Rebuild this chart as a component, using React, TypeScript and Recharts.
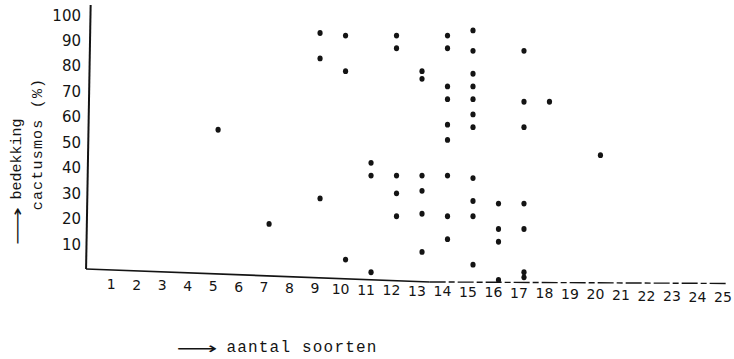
import React from "react";
import {
  ScatterChart,
  Scatter,
  XAxis,
  YAxis,
  ReferenceLine,
} from "recharts";

// aantal soorten (x) and bedekking cactusmos in % (y), one entry per dot
const soorten = [
  5,
  7,
  9, 9, 9,
  10, 10, 10,
  11, 11, 11,
  12, 12, 12, 12, 12,
  13, 13, 13, 13, 13, 13,
  14, 14, 14, 14, 14, 14, 14, 14, 14,
  15, 15, 15, 15, 15, 15, 15, 15, 15, 15, 15,
  16, 16, 16, 16,
  17, 17, 17, 17, 17, 17, 17,
  18,
  20,
];
const bedekking = [
  55,
  18,
  93, 83, 28,
  92, 78, 4,
  42, 37, -1,
  92, 87, 37, 30, 21,
  78, 75, 37, 31, 22, 7,
  92, 87, 72, 67, 57, 51, 37, 21, 12,
  94, 86, 77, 72, 67, 61, 56, 36, 27, 21, 2,
  26, 16, 11, -4,
  86, 66, 56, 26, 16, -1, -3,
  66,
  45,
];

const xTicks = [1, 2, 3, 4, 5, 6, 7, 8, 9, 10, 11, 12, 13, 14, 15, 16, 17, 18, 19, 20, 21, 22, 23, 24, 25];
const yTicks = [10, 20, 30, 40, 50, 60, 70, 80, 90, 100];

const data = soorten.map((x, i) => ({ x, y: bedekking[i] }));

const ink = "#141414";
const mono = "'Liberation Mono', 'DejaVu Sans Mono', monospace";

// typed labels under the axis drift a little downwards to the right
function XTick({ x, y, payload }: any) {
  const v = payload.value;
  return (
    <text
      x={x - 5}
      y={y + 4 + 0.55 * (v - 1)}
      textAnchor="middle"
      fontFamily="'DejaVu Sans', sans-serif"
      fontSize={14}
      fill={ink}
    >
      {v}
    </text>
  );
}

function Dot({ cx, cy }: any) {
  return <ellipse cx={cx} cy={cy} rx={2.6} ry={2.9} fill={ink} />;
}

export default function App() {
  return (
    <div style={{ position: "absolute", left: 0, top: 0, width: 734, height: 359 }}>
      <ScatterChart
        width={734}
        height={359}
        margin={{ top: 5, right: 1, bottom: 44, left: 0 }}
      >
        <XAxis
          type="number"
          dataKey="x"
          domain={[-0.3, 25.2]}
          ticks={xTicks}
          interval={0}
          axisLine={false}
          tickLine={false}
          tickSize={0}
          tickMargin={0}
          height={30}
          tick={<XTick />}
        />
        <YAxis
          type="number"
          dataKey="y"
          domain={[-6, 104]}
          ticks={yTicks}
          interval={0}
          width={83}
          axisLine={false}
          tickLine={false}
          tickSize={0}
          tickMargin={2}
          tick={{ fontFamily: "'DejaVu Sans', sans-serif", fontSize: 15, fill: ink }}
        />
        <ReferenceLine
          segment={[{ x: 0, y: 104 }, { x: -0.18, y: 0.27 }]}
          stroke={ink}
          strokeWidth={2}
          ifOverflow="visible"
        />
        <ReferenceLine
          segment={[{ x: -0.18, y: 0.27 }, { x: 13.3, y: -4.8 }]}
          stroke={ink}
          strokeWidth={1.6}
          ifOverflow="visible"
        />
        <ReferenceLine
          segment={[{ x: 13.3, y: -4.8 }, { x: 25, y: -5.4 }]}
          stroke={ink}
          strokeWidth={1.4}
          strokeDasharray="16 3 6 3"
          ifOverflow="visible"
        />
        <Scatter data={data} fill={ink} shape={<Dot />} isAnimationActive={false} />
      </ScatterChart>
      <svg
        width={734}
        height={359}
        style={{ position: "absolute", left: 0, top: 0, pointerEvents: "none" }}
      >
        <g fill={ink} fontFamily={mono}>
          <text
            x={17}
            y={226}
            transform="rotate(-90 17 226)"
            textAnchor="middle"
            dominantBaseline="central"
            fontFamily="'DejaVu Sans', sans-serif"
            fontSize={16}
            textLength={38}
            lengthAdjust="spacingAndGlyphs"
          >
            ⟶
          </text>
          <text
            x={17}
            y={159}
            transform="rotate(-90 17 159)"
            textAnchor="middle"
            dominantBaseline="central"
            fontSize={15}
          >
            bedekking
          </text>
          <text
            x={38}
            y={144}
            transform="rotate(-90 38 144)"
            textAnchor="middle"
            dominantBaseline="central"
            fontSize={15}
            letterSpacing={1.2}
          >
            cactusmos (%)
          </text>
          <text
            x={197}
            y={348}
            textAnchor="middle"
            dominantBaseline="central"
            fontFamily="'DejaVu Sans', sans-serif"
            fontSize={16}
            textLength={41}
            lengthAdjust="spacingAndGlyphs"
          >
            ⟶
          </text>
          <text
            x={302}
            y={348}
            textAnchor="middle"
            dominantBaseline="central"
            fontSize={16}
            letterSpacing={1.2}
          >
            aantal soorten
          </text>
        </g>
      </svg>
    </div>
  );
}
